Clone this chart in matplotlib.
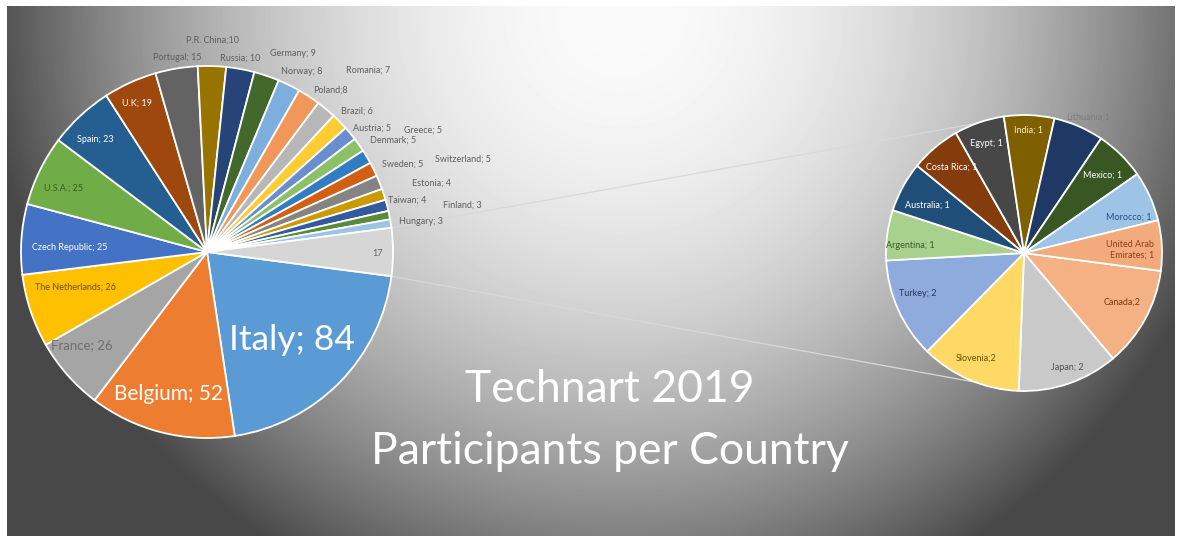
import numpy as np
import matplotlib

matplotlib.use("Agg")
import matplotlib.pyplot as plt  # noqa: E402

plt.rcParams["font.family"] = ["Lato", "DejaVu Sans"]

# main pie: participants per country, the last entry is the "other" slice
main_names = ["Italy", "Belgium", "France", "The Netherlands", "Czech Republic",
              "U.S.A.", "Spain", "U.K", "Portugal", "P.R. China", "Russia",
              "Germany", "Norway", "Poland", "Romania", "Brazil", "Austria",
              "Denmark", "Greece", "Sweden", "Switzerland", "Estonia", "Taiwan",
              "Finland", "Hungary", "Other"]
main_values = [84, 52, 26, 26, 25, 25, 23, 19, 15, 10, 10, 9, 8, 8, 7, 6, 5,
               5, 5, 5, 5, 4, 4, 3, 3, 17]
main_colors = ["#5B9BD5", "#ED7D31", "#A5A5A5", "#FFC000", "#4472C4", "#70AD47",
               "#255E91", "#9E480E", "#636363", "#997300", "#264478", "#43682B",
               "#7CAFDD", "#F1975A", "#B7B7B7", "#FFCD33", "#698ED0", "#8CC168",
               "#327DC2", "#D26012", "#848484", "#CC9A00", "#335AA1", "#5A8B39",
               "#9DC3E6", "#D6D6D6"]

# second pie: break-down of the "other" slice
sub_names = ["Canada", "Japan", "Slovenia", "Turkey", "Argentina", "Australia",
             "Costa Rica", "Egypt", "India", "Lithuania", "Mexico", "Morocco",
             "United Arab Emirates"]
sub_values = [2, 2, 2, 2, 1, 1, 1, 1, 1, 1, 1, 1, 1]
sub_colors = ["#F4B183", "#C9C9C9", "#FFD966", "#8FAADC", "#A9D18E", "#1F4E79",
              "#843C0C", "#474747", "#7F6000", "#203864", "#385723", "#9DC3E6",
              "#F3AA7C"]

no_space = {"P.R. China", "Poland", "Slovenia", "Canada", "Lithuania"}

# label placement (pixel coords of the picture), font size and colour
main_label_pos = {
    "Italy": (292, 340, 25.5, "white"), "Belgium": (168, 394, 15, "white"),
    "France": (82, 345, 9.5, "#6E6E6E"), "The Netherlands": (75, 287, 6.5, "#6B5200"),
    "Czech Republic": (70, 248, 6.5, "white"), "U.S.A.": (63, 188, 6.5, "#3D5A2A"),
    "Spain": (95, 139, 6.5, "white"), "U.K": (137, 103, 6.5, "white"),
    "Portugal": (177, 58, 6.5, "#5F5F5F"), "P.R. China": (212, 40, 6.5, "#5F5F5F"),
    "Russia": (240, 58, 6.5, "#5F5F5F"), "Germany": (293, 53, 6.5, "#5F5F5F"),
    "Norway": (302, 72, 6.5, "#5F5F5F"), "Poland": (330, 90, 6.5, "#5F5F5F"),
    "Romania": (368, 70, 6.5, "#5F5F5F"), "Brazil": (357, 111, 6.5, "#5F5F5F"),
    "Austria": (372, 128, 6.5, "#5F5F5F"), "Greece": (423, 130, 6.5, "#5F5F5F"),
    "Denmark": (393, 140, 6.5, "#5F5F5F"), "Sweden": (403, 164, 6.5, "#5F5F5F"),
    "Switzerland": (463, 159, 6.5, "#5F5F5F"), "Estonia": (431, 183, 6.5, "#5F5F5F"),
    "Taiwan": (407, 200, 6.5, "#5F5F5F"), "Finland": (462, 205, 6.5, "#5F5F5F"),
    "Hungary": (421, 222, 6.5, "#5F5F5F"), "Other": (378, 253, 6.5, "#5F5F5F"),
}
sub_label_pos = {
    "Lithuania": (1088, 117, "#7E7E7E"), "India": (1028, 130, "#F5ECCF"),
    "Egypt": (986, 144, "white"), "Costa Rica": (952, 167, "white"),
    "Mexico": (1103, 175, "white"), "Australia": (927, 205, "white"),
    "Morocco": (1129, 217, "#2F4F7F"), "Argentina": (910, 245, "#3D5A2A"),
    "United Arab Emirates": (1130, 250, "#8A4415"), "Turkey": (918, 293, "#25365E"),
    "Canada": (1122, 302, "#7A3A12"), "Slovenia": (976, 358, "#6B5200"),
    "Japan": (1067, 367, "#505050"),
}

W, H = 1179, 536


def py(y):
    return H - y


def label(name, val):
    if name == "Other":
        return str(val)
    if name == "United Arab Emirates":
        return "United Arab\nEmirates; %d" % val
    sep = ";" if name in no_space else "; "
    return f"{name}{sep}{val}"


fig = plt.figure(figsize=(W / 100, H / 100), dpi=100)
fig.patch.set_facecolor("white")
ax = fig.add_axes([0, 0, 1, 1])

# background gradient: light near the top centre, darker towards the edges
xs = np.arange(7, 1175)
ys = np.arange(6, 536)
gx, gy = np.meshgrid(xs, ys)
d2 = (gx - 620.0) ** 2 + (gy - 10.0) ** 2
shade = np.clip(250 - 4.4e-4 * d2, 72, 250) / 255.0
ax.imshow(shade, cmap="gray", vmin=0, vmax=1, extent=(7, 1175, 0, py(6)),
          origin="upper", aspect="auto", zorder=0, interpolation="bilinear")

c1, r1 = (207, py(252)), 186
c2, r2 = (1024, py(253)), 138
half = 360.0 * main_values[-1] / sum(main_values) / 2

# series lines from the split slice to the second pie
t = np.deg2rad(half)
ax.plot([c1[0] + r1 * np.cos(t), c2[0]], [c1[1] + r1 * np.sin(t), c2[1] + r2],
        color="#D8D8D8", lw=0.9, zorder=1)
ax.plot([c1[0] + r1 * np.cos(t), c2[0]], [c1[1] - r1 * np.sin(t), c2[1] - r2],
        color="#D8D8D8", lw=0.9, zorder=1)

wp = dict(edgecolor="white", linewidth=1.3, zorder=2)
ax.pie(main_values, colors=main_colors, center=c1, radius=r1, startangle=-half,
       counterclock=False, wedgeprops=wp)
ax.pie(sub_values, colors=sub_colors, center=c2, radius=r2, startangle=-half,
       counterclock=False, wedgeprops=wp)

for name, val in zip(main_names, main_values):
    x, y, fs, col = main_label_pos[name]
    ax.text(x, py(y), label(name, val), ha="center", va="center", fontsize=fs,
            color=col, zorder=5)
for name, val in zip(sub_names, sub_values):
    x, y, col = sub_label_pos[name]
    ax.text(x, py(y), label(name, val), ha="center", va="center", fontsize=6.5,
            color=col, zorder=5, multialignment="right", linespacing=1.3)

ax.text(610, py(389), "Technart 2019", ha="center", va="center", fontsize=32,
        color="white", zorder=5)
ax.text(610, py(452), "Participants per Country", ha="center", va="center",
        fontsize=32, color="white", zorder=5)

ax.set_xlim(0, W)
ax.set_ylim(0, H)
ax.set_aspect("equal")
ax.axis("off")
fig.savefig("out.png", dpi=100, facecolor="white")
